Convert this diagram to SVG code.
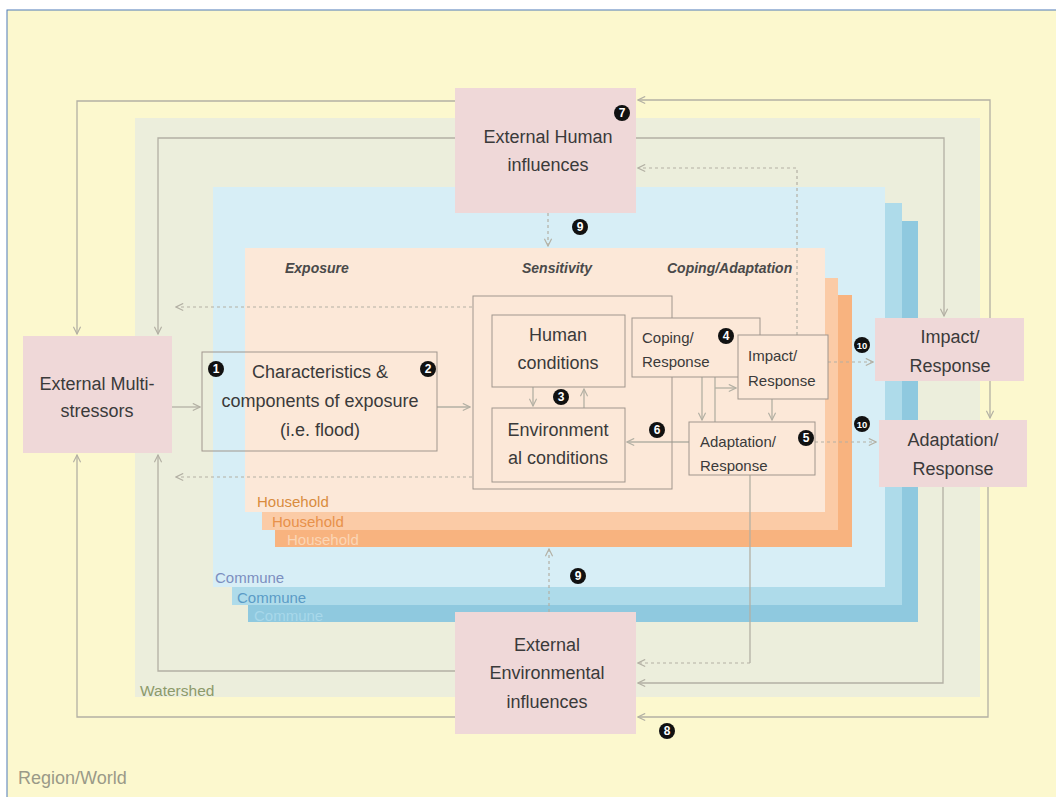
<svg xmlns="http://www.w3.org/2000/svg" width="1056" height="797" viewBox="0 0 1056 797">
<defs>
<marker id="ah" viewBox="0 0 10 10" refX="9" refY="5" markerWidth="9" markerHeight="9" orient="auto" markerUnits="userSpaceOnUse">
<path d="M1,1 L9,5 L1,9" fill="none" stroke="#B3B0A4" stroke-width="1.3"/>
</marker>
</defs>
<style>
.t{font-family:"Liberation Sans",Arial,sans-serif;fill:#3A3A3A;dominant-baseline:central}
.big{font-size:18px;text-anchor:middle}
.sm{font-size:15px}
.hd{font-size:14px;font-style:italic;font-weight:bold;fill:#4A4A4A}
.lbl{font-family:"Liberation Sans",Arial,sans-serif;font-size:15px;dominant-baseline:central}
.pink{fill:#EFD8D8}
.box{fill:none;stroke:#A0968D;stroke-width:1}
.boxf{fill:#FCE8D8;stroke:#A0968D;stroke-width:1}
.c{fill:none;stroke:#B3B0A4;stroke-width:1.3}
.d{fill:none;stroke:#B3B0A4;stroke-width:1.2;stroke-dasharray:3 3}
.b circle{fill:#111}
.b text{font-family:"Liberation Sans",Arial,sans-serif;font-size:12px;font-weight:bold;fill:#fff;text-anchor:middle;dominant-baseline:central}
</style>
<rect x="0" y="0" width="1056" height="797" fill="#ffffff"/>
<rect x="7" y="10" width="1060" height="800" fill="#FCF8CE" stroke="#4F7BB8" stroke-width="1"/>
<g id="levels">
<rect x="135" y="118" width="845" height="579" fill="#ECEEDC"/>
<rect x="248" y="221" width="670" height="401" fill="#8FC9DF"/>
<rect x="232" y="203" width="670" height="402" fill="#AEDBEA"/>
<rect x="213" y="187" width="672" height="400" fill="#D7EEF6"/>
<rect x="275" y="295" width="577" height="252" fill="#F8B37F"/>
<rect x="262" y="278" width="576" height="252" fill="#FBCBA6"/>
<rect x="245" y="248" width="580" height="264" fill="#FCE8D8"/>
<text class="lbl" x="257" y="501" fill="#D98C3E">Household</text>
<text class="lbl" x="272" y="521" fill="#E8914A">Household</text>
<text class="lbl" x="287" y="539" fill="#FBD6B6">Household</text>
<text class="lbl" x="215" y="577" fill="#7C8EC0">Commune</text>
<text class="lbl" x="237" y="597" fill="#5B9BC6">Commune</text>
<text class="lbl" x="254" y="615" fill="#A8D8EA">Commune</text>
<text class="lbl" x="140" y="690" fill="#8C9A6A" style="font-size:15.5px">Watershed</text>
<text class="lbl" x="18" y="778" fill="#9A9A88" style="font-size:18px">Region/World</text>
<text class="t hd" x="285" y="268">Exposure</text>
<text class="t hd" x="522" y="268">Sensitivity</text>
<text class="t hd" x="667" y="268">Coping/Adaptation</text>
</g>
<g id="connectors">
<path class="c" d="M455,101 H77 V334" marker-end="url(#ah)"/>
<path class="c" d="M455,138 H158 V334" marker-end="url(#ah)"/>
<path class="c" d="M455,717 H77 V455" marker-end="url(#ah)"/>
<path class="c" d="M455,671 H158 V455" marker-end="url(#ah)"/>
<path class="c" d="M990,318 V100 H638" marker-end="url(#ah)"/>
<path class="c" d="M636,138 H944 V316" marker-end="url(#ah)"/>
<path class="c" d="M990,381 V418" marker-end="url(#ah)"/>
<path class="c" d="M988,487 V717 H638" marker-end="url(#ah)"/>
<path class="c" d="M943,487 V683 H638" marker-end="url(#ah)"/>
<path class="d" d="M797,335 V168 H638" marker-end="url(#ah)"/>
<path class="c" d="M750,475 V663"/>
<path class="d" d="M750,663 H638" marker-end="url(#ah)"/>
<path class="d" d="M548,213 V246" marker-end="url(#ah)"/>
<path class="d" d="M549,612 V549" marker-end="url(#ah)"/>
<path class="d" d="M472,307 H176" marker-end="url(#ah)"/>
<path class="d" d="M472,477 H176" marker-end="url(#ah)"/>
<path class="d" d="M828,362 H873" marker-end="url(#ah)"/>
<path class="d" d="M815,442 H876" marker-end="url(#ah)"/>
<path class="c" d="M172,407 H200" marker-end="url(#ah)"/>
<path class="c" d="M437,407 H470" marker-end="url(#ah)"/>
<path class="c" d="M689,442 H627" marker-end="url(#ah)"/>
<path class="c" d="M533,387 V406" marker-end="url(#ah)"/>
<path class="c" d="M584,408 V389" marker-end="url(#ah)"/>
<path class="c" d="M702,377 V420" marker-end="url(#ah)"/>
<path class="c" d="M715,377 V422"/>
<path class="c" d="M715,388 H736" marker-end="url(#ah)"/>
<path class="c" d="M772,399 V420" marker-end="url(#ah)"/>
</g>
<g id="external-human">
<rect class="pink" x="455" y="88" width="181" height="125"/>
<text class="t big" x="548" y="137">External Human</text>
<text class="t big" x="548" y="165">influences</text>
</g>
<g id="external-multi">
<rect class="pink" x="23" y="336" width="149" height="117"/>
<text class="t big" x="97" y="384">External Multi-</text>
<text class="t big" x="97" y="411">stressors</text>
</g>
<g id="external-env">
<rect class="pink" x="455" y="612" width="181" height="122"/>
<text class="t big" x="547" y="645">External</text>
<text class="t big" x="547" y="673">Environmental</text>
<text class="t big" x="547" y="702">influences</text>
</g>
<g id="impact-right">
<rect class="pink" x="875" y="318" width="149" height="63"/>
<text class="t big" x="950" y="337">Impact/</text>
<text class="t big" x="950" y="366">Response</text>
</g>
<g id="adaptation-right">
<rect class="pink" x="879" y="420" width="148" height="67"/>
<text class="t big" x="953" y="440">Adaptation/</text>
<text class="t big" x="953" y="469">Response</text>
</g>
<g id="characteristics">
<rect class="box" x="202" y="352" width="235" height="99"/>
<text class="t big" x="320" y="372">Characteristics &amp;</text>
<text class="t big" x="320" y="401">components of exposure</text>
<text class="t big" x="320" y="430">(i.e. flood)</text>
</g>
<g id="sensitivity">
<rect class="box" x="473" y="296" width="199" height="193"/>
</g>
<g id="human-conditions">
<rect class="box" x="492" y="315" width="133" height="72"/>
<text class="t big" x="558" y="335">Human</text>
<text class="t big" x="558" y="363">conditions</text>
</g>
<g id="environmental-conditions">
<rect class="box" x="492" y="408" width="133" height="74"/>
<text class="t big" x="558" y="430">Environment</text>
<text class="t big" x="558" y="458">al conditions</text>
</g>
<g id="coping-response">
<rect class="boxf" x="632" y="318" width="128" height="59"/>
<text class="t sm" x="642" y="337">Coping/</text>
<text class="t sm" x="642" y="361">Response</text>
</g>
<g id="impact-response">
<rect class="boxf" x="738" y="335" width="90" height="64"/>
<text class="t sm" x="748" y="355">Impact/</text>
<text class="t sm" x="748" y="380">Response</text>
</g>
<g id="adaptation-response">
<rect class="boxf" x="689" y="422" width="126" height="53"/>
<text class="t sm" x="700" y="441">Adaptation/</text>
<text class="t sm" x="700" y="465">Response</text>
</g>
<g id="badges" class="b">
<circle cx="216" cy="369" r="8"/><text x="216" y="369">1</text>
<circle cx="428" cy="369" r="8"/><text x="428" y="369">2</text>
<circle cx="561" cy="397" r="8"/><text x="561" y="397">3</text>
<circle cx="726" cy="336" r="8"/><text x="726" y="336">4</text>
<circle cx="806" cy="438" r="8"/><text x="806" y="438">5</text>
<circle cx="657" cy="430" r="8"/><text x="657" y="430">6</text>
<circle cx="622" cy="113" r="8"/><text x="622" y="113">7</text>
<circle cx="667" cy="731" r="8"/><text x="667" y="731">8</text>
<circle cx="580" cy="227" r="8"/><text x="580" y="227">9</text>
<circle cx="578" cy="576" r="8"/><text x="578" y="576">9</text>
<circle cx="862" cy="345" r="8"/><text x="862" y="345" style="font-size:9.5px">10</text>
<circle cx="862" cy="424" r="8"/><text x="862" y="424" style="font-size:9.5px">10</text>
</g>
</svg>
